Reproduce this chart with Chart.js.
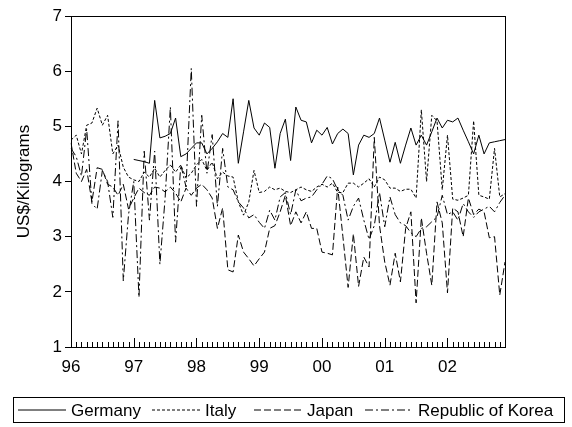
<!DOCTYPE html>
<html>
<head>
<meta charset="utf-8">
<title>Import unit values, US$/Kilograms</title>
<script src="https://cdn.jsdelivr.net/npm/chart.js@4"></script>
<style>
  html, body { margin: 0; padding: 0; background: #fff; }
  #wrap { width: 572px; height: 427px; }
</style>
</head>
<body>
<div id="wrap"><canvas id="chart" width="572" height="427"></canvas></div>
<script>
// Years covered (monthly observations, January 1996 – December 2002)
const years = ['1996', '1997', '1998', '1999', '2000', '2001', '2002'];
const yearTickLabels = ['96', '97', '98', '99', '00', '01', '02'];
const monthCodes = ['M01','M02','M03','M04','M05','M06','M07','M08','M09','M10','M11','M12'];
const categories = [];
years.forEach(y => monthCodes.forEach(m => categories.push(y + m)));

const yTickValues = [1, 2, 3, 4, 5, 6, 7];

// Unit values in US$ per kilogram, one row per year
const germany = [
  null, null, null, null, null, null, null, null, null, null, null, null,
  4.40, 4.38, 4.36, 4.33, 5.47, 4.79, 4.82, 4.87, 5.15, 4.45, 4.50, 4.60,
  4.70, 4.70, 4.50, 4.60, 4.72, 4.87, 4.80, 5.50, 4.33, 4.90, 5.47, 4.97,
  4.84, 5.06, 4.98, 4.24, 4.87, 5.13, 4.38, 5.35, 5.11, 5.08, 4.70, 4.93,
  4.84, 4.98, 4.68, 4.87, 4.95, 4.87, 4.12, 4.66, 4.84, 4.80, 4.87, 5.15,
  4.75, 4.35, 4.71, 4.33, 4.66, 4.97, 4.66, 4.84, 4.66, 4.90, 5.15, 4.97,
  5.11, 5.08, 5.15, 4.93, 4.72, 4.50, 4.84, 4.50, 4.70, 4.72, 4.74, 4.76
];
const italy = [
  4.75, 4.84, 4.50, 5.02, 5.06, 5.33, 5.02, 5.20, 4.50, 4.66, 4.26, 4.08,
  4.03, 4.00, 4.17, 4.08, 4.24, 4.08, 4.20, 4.30, 4.17, 4.30, 4.06, 4.15,
  4.30, 4.40, 4.20, 4.35, 4.05, 4.17, 4.10, 4.08, 3.63, 3.39, 3.63, 4.20,
  3.80, 3.82, 3.90, 3.85, 3.88, 3.82, 3.80, 3.85, 3.90, 3.85, 3.82, 3.90,
  3.95, 3.90, 3.97, 3.80, 3.80, 3.97, 3.97, 3.90, 3.97, 4.05, 3.90, 4.08,
  4.03, 3.88, 3.88, 3.82, 3.86, 3.86, 3.70, 5.30, 4.00, 5.20, 5.10, 3.85,
  4.84, 3.68, 3.66, 3.70, 3.75, 5.10, 3.75, 3.72, 3.68, 4.60, 3.72, 3.78
];
const japan = [
  4.70, 4.15, 4.00, 4.22, 3.63, 4.25, 4.22, 3.95, 3.90, 3.75, 3.95, 3.50,
  3.70, 3.88, 3.80, 3.75, 3.90, 3.88, 3.81, 3.90, 3.79, 3.63, 3.88, 3.75,
  3.88, 3.95, 3.85, 3.70, 3.15, 3.52, 2.40, 2.36, 3.03, 2.72, 2.60, 2.47,
  2.60, 2.72, 3.15, 3.20, 3.45, 3.75, 3.20, 3.45, 3.25, 3.45, 3.15, 3.15,
  2.72, 2.70, 2.67, 3.90, 3.00, 2.08, 3.05, 2.10, 2.63, 2.45, 4.80, 3.20,
  2.54, 2.12, 2.70, 2.18, 3.15, 3.45, 1.80, 3.34, 2.70, 2.12, 3.63, 3.25,
  1.98, 3.52, 3.45, 3.00, 3.70, 3.40, 3.50, 3.45, 2.98, 3.00, 1.94, 2.54
];
const korea = [
  4.60, 4.45, 4.10, 4.95, 3.60, 3.50, 4.20, 4.00, 3.35, 5.10, 2.20, 3.40,
  4.00, 1.90, 4.55, 3.30, 4.55, 2.50, 3.70, 5.35, 2.90, 4.30, 3.90, 6.05,
  3.55, 5.20, 4.15, 4.85, 3.55, 4.60, 3.90, 3.85, 3.63, 3.52, 3.34, 3.40,
  3.26, 3.15, 3.48, 3.30, 3.72, 3.80, 3.40, 3.85, 3.65, 3.70, 3.72, 3.85,
  3.95, 4.10, 4.05, 3.85, 3.75, 3.30, 3.55, 3.70, 3.30, 2.95, 3.20, 3.80,
  3.18, 3.72, 3.40, 3.25, 3.20, 3.07, 3.00, 3.15, 3.18, 3.27, 3.36, 3.75,
  3.40, 3.45, 3.30, 3.60, 3.45, 3.35, 3.45, 3.50, 3.55, 3.45, 3.62, 3.75
];

const seriesNames = ['Germany', 'Italy', 'Japan', 'Republic of Korea'];
const seriesData = [germany, italy, japan, korea];
const seriesDash = [[], [3, 2], [7, 3], [8, 3, 2, 3]];

const FONT = "'Liberation Sans', Arial, Helvetica, sans-serif";
Chart.defaults.font.family = FONT;
Chart.defaults.color = '#000';

// Box frame, monthly tick marks inside the bottom axis, and the boxed legend
const framePlugin = {
  id: 'frameAndLegend',
  afterDraw(chart) {
    const { ctx, chartArea: a } = chart;
    const x = chart.scales.x;
    ctx.save();
    ctx.strokeStyle = '#000';
    ctx.lineWidth = 1;
    ctx.setLineDash([]);
    ctx.strokeRect(Math.round(a.left) + 0.5, Math.round(a.top) + 0.5,
                   Math.round(a.right - a.left), Math.round(a.bottom - a.top));

    categories.forEach((c, i) => {
      const px = Math.round(x.getPixelForValue(i)) + 0.5;
      const len = c.endsWith('M01') ? 9 : 5;
      ctx.beginPath();
      ctx.moveTo(px, Math.round(a.bottom));
      ctx.lineTo(px, Math.round(a.bottom) - len);
      ctx.stroke();
    });

    // legend
    const boxL = 13, boxT = 397, boxW = 551, boxH = 25;
    ctx.strokeRect(boxL + 0.5, boxT + 0.5, boxW, boxH);
    const cy = boxT + boxH / 2 + 0.5;
    const lineStarts = [18, 152, 254, 365];
    ctx.font = '17px ' + FONT;
    ctx.fillStyle = '#000';
    ctx.textBaseline = 'middle';
    seriesNames.forEach((name, k) => {
      const x0 = lineStarts[k];
      ctx.setLineDash(seriesDash[k]);
      ctx.beginPath();
      ctx.moveTo(x0, cy);
      ctx.lineTo(x0 + 48, cy);
      ctx.stroke();
      ctx.setLineDash([]);
      ctx.fillText(name, x0 + 53, cy + 1);
    });
    ctx.restore();
  }
};

new Chart(document.getElementById('chart'), {
  type: 'line',
  data: {
    labels: categories,
    datasets: seriesNames.map((name, k) => ({
      label: name,
      data: seriesData[k],
      borderColor: '#000',
      borderWidth: 1,
      borderDash: seriesDash[k],
      pointRadius: 0,
      tension: 0,
      fill: false,
      spanGaps: false
    }))
  },
  options: {
    responsive: false,
    devicePixelRatio: 1,
    animation: false,
    layout: { padding: { left: 10, top: 16, right: 67, bottom: 0 } },
    plugins: {
      legend: { display: false },
      tooltip: { enabled: false }
    },
    scales: {
      x: {
        type: 'category',
        offset: false,
        grid: { display: false, drawTicks: false },
        border: { display: false },
        ticks: {
          autoSkip: false,
          maxRotation: 0,
          minRotation: 0,
          padding: 10,
          font: { size: 17 },
          color: '#000',
          callback: (v, i) => {
            const c = categories[i];
            return c.endsWith('M01') ? yearTickLabels[years.indexOf(c.slice(0, 4))] : '';
          }
        },
        afterFit: s => { s.height = 80; }
      },
      y: {
        min: 1,
        max: 7,
        afterBuildTicks: s => { s.ticks = yTickValues.map(v => ({ value: v })); },
        grid: { drawOnChartArea: false, drawTicks: true, tickLength: 6, color: '#000' },
        border: { display: false },
        ticks: { padding: 3, font: { size: 17 }, color: '#000' },
        title: {
          display: true,
          text: 'US$/Kilograms',
          font: { size: 17 },
          color: '#000',
          padding: { top: 4, bottom: 0 }
        },
        afterFit: s => { s.width = 61; }
      }
    }
  },
  plugins: [framePlugin]
});
</script>
</body>
</html>
